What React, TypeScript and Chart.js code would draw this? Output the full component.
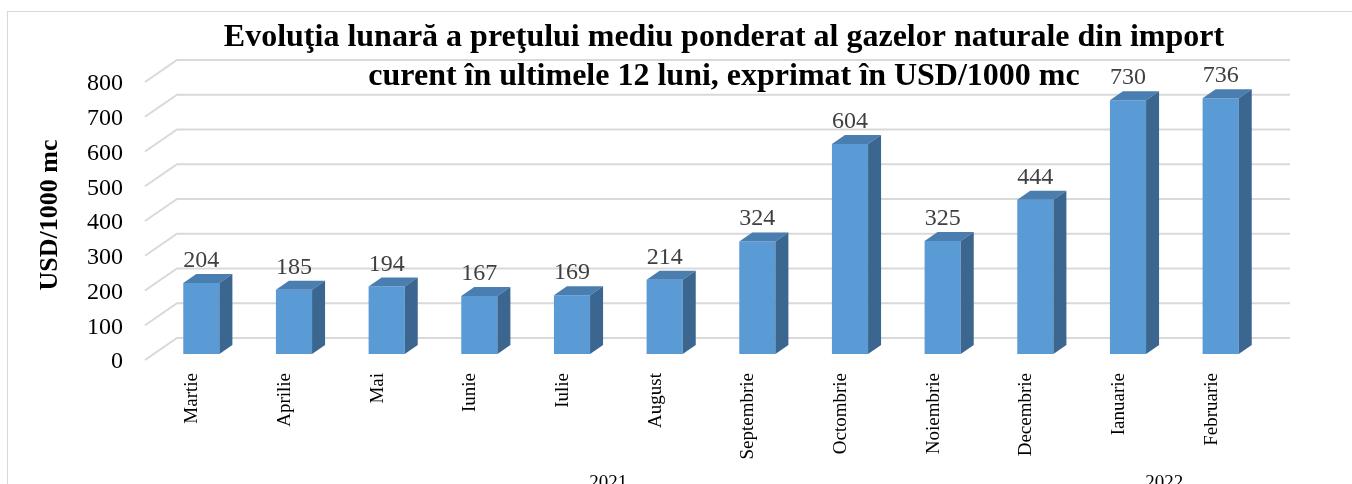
import React, { useEffect, useRef } from 'react';
import { Chart, registerables } from 'chart.js';

Chart.register(...registerables);

const categories = ['Martie', 'Aprilie', 'Mai', 'Iunie', 'Iulie', 'August', 'Septembrie', 'Octombrie', 'Noiembrie', 'Decembrie', 'Ianuarie', 'Februarie'];
const values = [204, 185, 194, 167, 169, 214, 324, 604, 325, 444, 730, 736];
const yearLabels = ['2021', '2022'];
const yearFirstIndex = [0, 10];
const yearLastIndex = [9, 11];
const titleLines = [
  'Evoluţia lunară a preţului mediu ponderat al gazelor naturale din import',
  'curent în ultimele 12 luni, exprimat în USD/1000 mc',
];
const yAxisTitle = 'USD/1000 mc';
const yMin = 0;
const yMax = 800;
const yStep = 100;

const FONT = "'Liberation Serif', 'Times New Roman', serif";
const FRONT = '#5b9bd5';
const TOP = '#4a7db0';
const SIDE = '#3a6690';
const GRID = '#d9d9d9';
const DEPTH_X = 13;
const DEPTH_Y = -9;

const decorPlugin = {
  id: 'decor3d',
  beforeDraw(chart: any) {
    const { ctx, chartArea, scales } = chart;
    const y = scales.y;
    ctx.save();
    ctx.fillStyle = '#ffffff';
    ctx.fillRect(0, 0, chart.width, chart.height);
    ctx.strokeStyle = GRID;
    ctx.lineWidth = 1;
    ctx.strokeRect(7.5, 11.5, chart.width + 20, chart.height + 20);
    ctx.lineWidth = 2;
    ctx.strokeStyle = GRID;
    for (let v = yMin; v <= yMax; v += yStep) {
      const py = y.getPixelForValue(v);
      ctx.beginPath();
      ctx.moveTo(chartArea.left - 10, py + 6);
      ctx.lineTo(chartArea.left + 22, py - 16);
      ctx.lineTo(chartArea.right + 23, py - 16);
      ctx.stroke();
    }
    ctx.restore();
  },
  afterDatasetsDraw(chart: any) {
    const { ctx } = chart;
    const meta = chart.getDatasetMeta(0);
    ctx.save();
    meta.data.forEach((bar: any, i: number) => {
      const x0 = bar.x - bar.width / 2;
      const x1 = bar.x + bar.width / 2;
      const top = bar.y;
      const base = bar.base;
      ctx.fillStyle = TOP;
      ctx.beginPath();
      ctx.moveTo(x0, top);
      ctx.lineTo(x1, top);
      ctx.lineTo(x1 + DEPTH_X, top + DEPTH_Y);
      ctx.lineTo(x0 + DEPTH_X, top + DEPTH_Y);
      ctx.closePath();
      ctx.fill();
      ctx.fillStyle = SIDE;
      ctx.beginPath();
      ctx.moveTo(x1, top);
      ctx.lineTo(x1 + DEPTH_X, top + DEPTH_Y);
      ctx.lineTo(x1 + DEPTH_X, base + DEPTH_Y);
      ctx.lineTo(x1, base);
      ctx.closePath();
      ctx.fill();
      ctx.fillStyle = '#404040';
      ctx.font = `24px ${FONT}`;
      ctx.textAlign = 'center';
      ctx.textBaseline = 'alphabetic';
      ctx.fillText(String(values[i]), bar.x, top - 16);
    });
    ctx.restore();
  },
  afterDraw(chart: any) {
    const { ctx, scales } = chart;
    const x = scales.x;
    ctx.save();
    ctx.fillStyle = '#000000';
    ctx.textAlign = 'center';
    ctx.textBaseline = 'alphabetic';
    ctx.font = `bold 32px ${FONT}`;
    ctx.fillText(titleLines[0], 724, 46);
    ctx.fillText(titleLines[1], 724, 85);
    ctx.font = `19px ${FONT}`;
    yearLabels.forEach((lab, k) => {
      const cx = (x.getPixelForValue(yearFirstIndex[k]) + x.getPixelForValue(yearLastIndex[k])) / 2 - 10;
      ctx.fillText(lab, cx, 488);
    });
    ctx.restore();
  },
};

export default function App() {
  const ref = useRef<HTMLCanvasElement | null>(null);
  useEffect(() => {
    if (!ref.current) return;
    const chart = new Chart(ref.current, {
      type: 'bar',
      data: {
        labels: categories,
        datasets: [
          {
            data: values,
            backgroundColor: FRONT,
            borderWidth: 0,
            barPercentage: 0.39,
            categoryPercentage: 1,
          },
        ],
      },
      options: {
        animation: false,
        responsive: false,
        devicePixelRatio: 1,
        layout: { padding: { left: 0, right: 85, top: 76, bottom: 0 } },
        plugins: {
          legend: { display: false },
          tooltip: { enabled: false },
          title: { display: false },
        },
        scales: {
          x: {
            type: 'category',
            grid: { display: false, drawTicks: false },
            border: { display: false },
            ticks: {
              autoSkip: false,
              minRotation: 90,
              maxRotation: 90,
              padding: 19,
              labelOffset: -9,
              color: '#000000',
              font: { size: 19, family: FONT },
            },
            afterFit(scale: any) {
              scale.height = 130;
            },
          },
          y: {
            min: yMin,
            max: yMax,
            grid: { display: false, drawTicks: false },
            border: { display: false },
            ticks: {
              stepSize: yStep,
              padding: 32,
              labelOffset: 8,
              color: '#000000',
              font: { size: 24, family: FONT },
            },
            title: {
              display: true,
              text: yAxisTitle,
              color: '#000000',
              font: { size: 26, weight: 'bold', family: FONT },
              padding: { top: 35, bottom: 0 },
            },
            afterFit(scale: any) {
              scale.width = 155;
            },
          },
        },
      },
      plugins: [decorPlugin],
    } as any);
    return () => chart.destroy();
  }, []);
  return (
    <div style={{ position: 'absolute', left: 0, top: 0, width: 1352, height: 484 }}>
      <canvas ref={ref} width={1352} height={484} style={{ display: 'block', width: 1352, height: 484 }} />
    </div>
  );
}
